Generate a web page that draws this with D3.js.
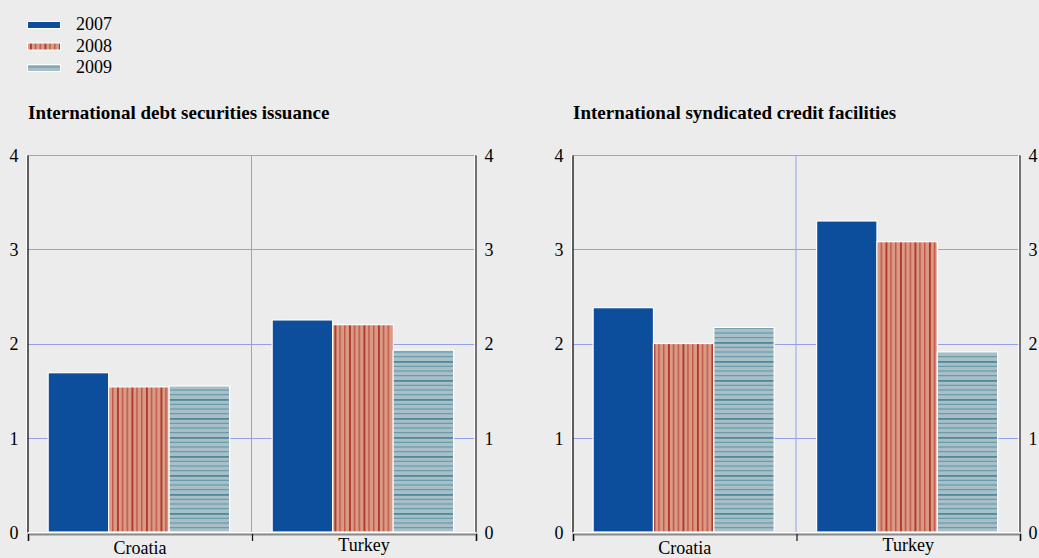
<!DOCTYPE html>
<html>
<head>
<meta charset="utf-8">
<script src="https://cdn.jsdelivr.net/npm/d3@7"></script>
<style>
  html, body { margin: 0; padding: 0; background: #ececec; }
  svg { display: block; }
  text { font-family: "Liberation Serif", "Times New Roman", serif; fill: #000; }
</style>
</head>
<body>
<svg id="chart" width="1039" height="558"></svg>
<script>
// ---------- data ----------
const categories = ["Croatia", "Turkey"];
const years = ["2007", "2008", "2009"];
const yTicks = [0, 1, 2, 3, 4];
const panelTitles = ["International debt securities issuance", "International syndicated credit facilities"];

const debt2007 = [1.69, 2.25];
const debt2008 = [1.54, 2.20];
const debt2009 = [1.55, 1.93];

const credit2007 = [2.38, 3.30];
const credit2008 = [2.00, 3.08];
const credit2009 = [2.17, 1.91];

const panelSeries = [
  [debt2007, debt2008, debt2009],
  [credit2007, credit2008, credit2009]
];

// ---------- setup ----------
const svg = d3.select("#chart");
svg.append("rect").attr("width", 1039).attr("height", 558).attr("fill", "#ececec");

const defs = svg.append("defs");
// 2008 pattern: salmon with red vertical stripes
const p8 = defs.append("pattern").attr("id", "pat2008")
  .attr("patternUnits", "userSpaceOnUse").attr("width", 14.5).attr("height", 10);
p8.append("rect").attr("width", 14.5).attr("height", 10).attr("fill", "#d99a86");
p8.append("rect").attr("x", 1).attr("width", 1.8).attr("height", 10).attr("fill", "#b03426");
p8.append("rect").attr("x", 6).attr("width", 1.1).attr("height", 10).attr("fill", "#b93f31");
p8.append("rect").attr("x", 10.8).attr("width", 1.1).attr("height", 10).attr("fill", "#b93f31");
// 2009 pattern: grey-blue with teal horizontal stripes
const p9 = defs.append("pattern").attr("id", "pat2009")
  .attr("patternUnits", "userSpaceOnUse").attr("width", 10).attr("height", 19);
p9.append("rect").attr("width", 10).attr("height", 19).attr("fill", "#a9bfc7");
p9.append("rect").attr("y", 0).attr("width", 10).attr("height", 1.8).attr("fill", "#4f8a9b");
p9.append("rect").attr("y", 4.8).attr("width", 10).attr("height", 1).attr("fill", "#5a93a3");
p9.append("rect").attr("y", 9.5).attr("width", 10).attr("height", 1).attr("fill", "#5a93a3");
p9.append("rect").attr("y", 14.2).attr("width", 10).attr("height", 1).attr("fill", "#5a93a3");

const fills = { "2007": "#0d4e9c", "2008": "url(#pat2008)", "2009": "url(#pat2009)" };

// ---------- legend ----------
const legend = svg.append("g");
const legendY = d3.scalePoint().domain(years).range([25, 68]);
years.forEach(yr => {
  const cy = legendY(yr);
  legend.append("rect").attr("x", 27.5).attr("y", cy - 3.5).attr("width", 33).attr("height", 7)
    .attr("fill", fills[yr]).attr("stroke", "#fff").attr("stroke-width", 1);
  legend.append("text").attr("x", 76).attr("y", cy + 5).attr("font-size", 18).text(yr);
});

// ---------- panels ----------
const panels = [
  { left: 28, right: 476 },
  { left: 573, right: 1020 }
];
const yTop = 155, yBottom = 532;
const y = d3.scaleLinear().domain([0, 4]).range([yBottom, yTop]);

panels.forEach((p, pi) => {
  const g = svg.append("g");
  const x0 = d3.scaleBand().domain(categories).range([p.left, p.right]);
  const bw = x0.bandwidth();
  const x1 = d3.scaleBand().domain(years).range([bw * 0.09, bw * 0.9]);

  // title
  g.append("text").attr("x", p.left).attr("y", 119)
    .attr("font-size", 19).attr("font-weight", "bold").text(panelTitles[pi]);

  // horizontal grid
  g.selectAll(".hg").data(yTicks.filter(t => t > 0)).join("line")
    .attr("x1", p.left).attr("x2", p.right)
    .attr("y1", d => Math.round(y(d)) + 0.5).attr("y2", d => Math.round(y(d)) + 0.5)
    .attr("stroke", "#93a0e3").attr("stroke-width", 1);
  // vertical category divider grid
  g.append("line").attr("x1", x0(categories[1]) - 0.5).attr("x2", x0(categories[1]) - 0.5)
    .attr("y1", yTop).attr("y2", yBottom).attr("stroke", "#93a0e3").attr("stroke-width", 1);

  // bars
  const series = panelSeries[pi];
  const rows = [];
  categories.forEach((c, ci) => years.forEach((yr, yi) => rows.push({ c, yr, v: series[yi][ci] })));
  g.selectAll(".bar").data(rows).join("rect")
    .attr("x", d => x0(d.c) + x1(d.yr))
    .attr("y", d => y(d.v))
    .attr("width", x1.bandwidth())
    .attr("height", d => y(0) - y(d.v))
    .attr("fill", d => fills[d.yr])
    .attr("stroke", "#ffffff").attr("stroke-width", 1.2);

  // left axis
  g.append("line").attr("x1", p.left - 1.5).attr("x2", p.left - 1.5).attr("y1", yTop).attr("y2", yBottom + 2)
    .attr("stroke", "#fff").attr("stroke-width", 1);
  const leftAxis = d3.axisLeft(y).tickValues(yTicks).tickSize(0).tickPadding(9).tickFormat(d3.format("d"));
  const la = g.append("g").attr("transform", `translate(${p.left - 0.5},0)`).call(leftAxis);
  la.select(".domain").attr("stroke", "#111").attr("stroke-width", 1.3);
  la.selectAll("text").attr("font-size", 18).attr("font-family", "Liberation Serif, serif").attr("dy", "0.36em");

  // right axis
  g.append("line").attr("x1", p.right - 1.5).attr("x2", p.right - 1.5).attr("y1", yTop).attr("y2", yBottom)
    .attr("stroke", "#fff").attr("stroke-width", 1);
  const rightAxis = d3.axisRight(y).tickValues(yTicks).tickSize(0).tickPadding(9).tickFormat(d3.format("d"));
  const ra = g.append("g").attr("transform", `translate(${p.right - 0.5},0)`).call(rightAxis);
  ra.select(".domain").attr("stroke", "#333").attr("stroke-width", 1.3);
  ra.selectAll("text").attr("font-size", 18).attr("font-family", "Liberation Serif, serif").attr("dy", "0.36em");

  // bottom axis
  g.append("line").attr("x1", p.left).attr("x2", p.right).attr("y1", yBottom + 0.5).attr("y2", yBottom + 0.5)
    .attr("stroke", "#fff").attr("stroke-width", 1);
  const bx = d3.scaleLinear().domain([0, 2]).range([p.left, p.right]);
  const bottomAxis = d3.axisBottom(bx).tickValues([0, 1, 2]).tickSize(7).tickFormat("");
  const ba = g.append("g").attr("transform", `translate(0,${yBottom + 2})`).call(bottomAxis);
  ba.select(".domain").attr("stroke", "#8a8a8a").attr("stroke-width", 2);
  ba.selectAll(".tick line").attr("stroke", "#111").attr("stroke-width", 1.2);

  // category labels
  g.selectAll(".cat").data(categories).join("text")
    .attr("x", d => x0(d) + bw / 2)
    .attr("y", (d, i) => i === 0 ? 554 : 551)
    .attr("text-anchor", "middle").attr("font-size", 18).text(d => d);
});
</script>
</body>
</html>
